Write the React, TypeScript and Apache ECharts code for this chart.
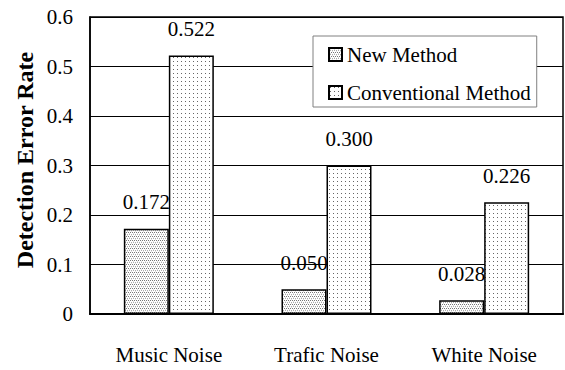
import React, { useEffect, useRef } from "react";
import * as echarts from "echarts";

const categories = ["Music Noise", "Trafic Noise", "White Noise"];
const seriesNames = ["New Method", "Conventional Method"];
const newMethod = [0.172, 0.05, 0.028];
const conventional = [0.522, 0.3, 0.226];
const yTicks = { min: 0, max: 0.6, interval: 0.1 };

const FONT = "Times New Roman, Liberation Serif, serif";

// Small dotted tiles used as bar fills (dense dots vs. sparse dots).
function makeTile(size: number, dots: [number, number, string][], bg: string) {
  const c = document.createElement("canvas");
  c.width = size;
  c.height = size;
  const ctx = c.getContext("2d")!;
  ctx.fillStyle = bg;
  ctx.fillRect(0, 0, size, size);
  for (const [x, y, col] of dots) {
    ctx.fillStyle = col;
    ctx.fillRect(x, y, 1, 1);
  }
  return c;
}

export default function App() {
  const ref = useRef<HTMLDivElement>(null);

  useEffect(() => {
    if (!ref.current) return;
    const chart = echarts.init(ref.current, undefined, { renderer: "svg" });

    const denseTile = makeTile(
      4,
      [
        [0, 0, "#777"],
        [2, 0, "#777"],
        [1, 2, "#aaa"],
        [3, 2, "#aaa"],
        [1, 1, "#e0e0e0"],
        [3, 3, "#e0e0e0"],
      ],
      "#fff"
    );
    const sparseTile = makeTile(4, [[1, 1, "#666"]], "#fff");

    const denseFill: any = { image: denseTile, repeat: "repeat" };
    const sparseFill: any = { image: sparseTile, repeat: "repeat" };

    const txt = { fontSize: 21, fontFamily: FONT, fontWeight: "normal" as const, color: "#000" };

    const labelStyle = {
      show: true,
      position: "top" as const,
      distance: 16,
      ...txt,
      formatter: (p: any) => Number(p.value).toFixed(3),
    };

    chart.setOption({
      animation: false,
      backgroundColor: "#fff",
      textStyle: { fontFamily: FONT, color: "#000" },
      grid: {
        left: 90,
        right: 2,
        top: 17,
        bottom: 56,
        show: true,
        borderColor: "#000",
        borderWidth: 1.5,
      },
      legend: {
        orient: "vertical",
        left: 313,
        top: 36,
        padding: [8, 6, 4, 15],
        itemGap: 17,
        itemWidth: 13,
        itemHeight: 13,
        backgroundColor: "#fff",
        borderColor: "#808080",
        borderWidth: 1,
        textStyle: { ...txt, lineHeight: 20 },
        data: seriesNames.map((n) => ({ name: n, icon: "rect" })),
      },
      xAxis: {
        type: "category",
        data: categories,
        axisTick: { show: false },
        axisLine: { show: true, lineStyle: { color: "#000", width: 2 } },
        axisLabel: { ...txt, margin: 30 },
      },
      yAxis: {
        type: "value",
        min: yTicks.min,
        max: yTicks.max,
        interval: yTicks.interval,
        axisLine: { show: true, lineStyle: { color: "#000", width: 1.5 } },
        axisTick: { show: false },
        splitLine: { show: true, lineStyle: { color: "#000", width: 1 } },
        axisLabel: { ...txt, margin: 17 },
      },
      graphic: [
        {
          type: "text",
          x: 25,
          y: 160,
          rotation: Math.PI / 2,
          style: {
            text: "Detection Error Rate",
            fontSize: 24,
            fontWeight: "bold",
            fontFamily: FONT,
            fill: "#000",
            align: "center",
            verticalAlign: "middle",
          },
        },
      ],
      series: [
        {
          name: seriesNames[0],
          type: "bar",
          data: newMethod,
          barWidth: 45,
          barGap: "0%",
          itemStyle: { color: denseFill, borderColor: "#000", borderWidth: 1.5 },
          label: labelStyle,
        },
        {
          name: seriesNames[1],
          type: "bar",
          data: conventional,
          barWidth: 45,
          barGap: "0%",
          itemStyle: { color: sparseFill, borderColor: "#000", borderWidth: 1.5 },
          label: labelStyle,
        },
      ],
    });

    return () => chart.dispose();
  }, []);

  return (
    <div
      ref={ref}
      style={{ position: "fixed", left: 0, top: 0, width: 565, height: 370 }}
    />
  );
}
